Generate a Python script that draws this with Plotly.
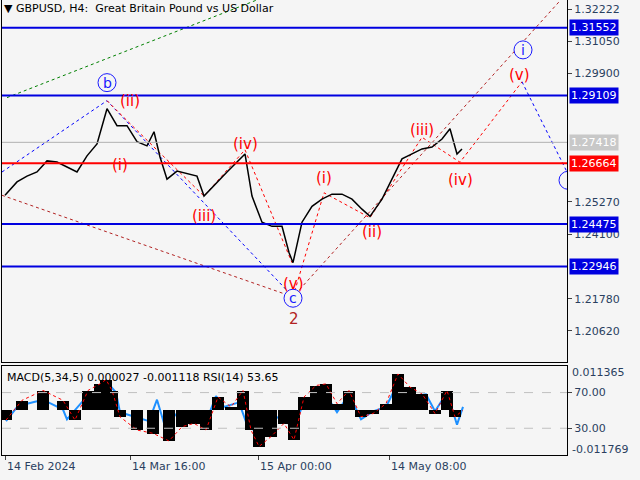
import plotly.graph_objects as go

# ---- data ----
price_x = [3,15,25,35,45,55,65,75,85,95,105,115,125,135,145,152,158,165,175,185,195,202,215,225,235,243,250,260,270,280,287,291,300,310,320,330,340,350,360,368,380,390,400,410,420,430,440,448,455,460]
price_y = [1.2551,1.2599,1.2620,1.2635,1.2675,1.2671,1.2653,1.2635,1.2693,1.2736,1.2863,1.2802,1.2802,1.2744,1.2729,1.2780,1.2689,1.2609,1.2638,1.2628,1.2620,1.2548,1.2599,1.2635,1.2671,1.2700,1.2548,1.2454,1.2439,1.2439,1.2345,1.2308,1.2454,1.2511,1.2537,1.2555,1.2555,1.2537,1.2501,1.2475,1.2537,1.2609,1.2682,1.2700,1.2718,1.2725,1.2754,1.2791,1.2700,1.2718]

macd_x = [4,20,41,61,73,86,98,104,110,118,135,151,167,180,192,204,216,229,241,249,257,269,282,292,302,314,324,335,347,359,371,384,396,408,420,433,445,453,461]
macd_v = [-0.003,0.003,0.006,0.003,-0.003,0.006,0.008,0.0093,0.006,-0.002,-0.006,-0.007,-0.0093,-0.005,-0.004,-0.006,0.004,0.001,0.006,-0.006,-0.011,-0.008,-0.004,-0.009,0.004,0.0075,0.008,0.002,0.006,-0.002,-0.001,0.002,0.011,0.007,0.005,-0.001,0.006,-0.002,0.0]

rsi_x = [4,16,41,61,65,82,98,104,114,118,135,147,155,163,176,192,204,214,222,237,245,253,269,282,290,302,314,327,335,347,359,371,384,396,408,424,433,445,455,461]
rsi_v = [38,55,62,51,40,62,73,83,70,48,42,38,62,32,48,49,37,66,54,59,34,27,38,46,27,59,66,62,48,68,40,49,54,81,66,68,49,70,34,54]

hlines_blue = [1.31552, 1.29109, 1.24475, 1.22946]
hline_red = 1.26664
hline_gray = 1.27418
price_ticks = [1.32222,1.31050,1.29900,1.25270,1.24100,1.21780,1.20620]
x_tickvals = [3,128,256,387]
x_ticklabels = ["14 Feb 2024","14 Mar 16:00","15 Apr 00:00","14 May 08:00"]

blue_wave_x = [0,105,291]; blue_wave_y = [1.2635,1.2892,1.2185]
brown_wave_x = [0,291,565]; brown_wave_y = [1.2551,1.2185,1.3280]
red_sub1_x = [105,118,202,243,290]; red_sub1_y = [1.2892,1.2845,1.2548,1.2715,1.2308]
red_sub2_x = [291,322,368,420,458,520]; red_sub2_y = [1.2185,1.2560,1.2470,1.2760,1.2670,1.2960]
blue_proj_x = [520,565]; blue_proj_y = [1.2960,1.2635]
green_x = [5,255]; green_y = [1.2903,1.3255]

circle_labels = [("b",105,1.2957),("c",291,1.2180),("i",521,1.3075),("",566,1.2605)]
wave_labels = [("2",292,1.2105,"#b22222"),("(i)",118,1.2660,"red"),("(ii)",128,1.2890,"red"),
               ("(iii)",202,1.2475,"red"),("(iv)",243,1.2735,"red"),("(v)",291,1.2233,"red"),
               ("(i)",322,1.2615,"red"),("(ii)",370,1.2420,"red"),("(iii)",420,1.2788,"red"),
               ("(iv)",458,1.2605,"red"),("(v)",517,1.2985,"red")]

fig = go.Figure()
dot = dict(dash="dot", width=1)
fig.add_trace(go.Scatter(x=green_x, y=green_y, mode="lines", line=dict(color="green", **dot)))
fig.add_trace(go.Scatter(x=blue_wave_x, y=blue_wave_y, mode="lines", line=dict(color="blue", **dot)))
fig.add_trace(go.Scatter(x=brown_wave_x, y=brown_wave_y, mode="lines", line=dict(color="#b22222", **dot)))
fig.add_trace(go.Scatter(x=red_sub1_x, y=red_sub1_y, mode="lines", line=dict(color="red", **dot)))
fig.add_trace(go.Scatter(x=red_sub2_x, y=red_sub2_y, mode="lines", line=dict(color="red", **dot)))
fig.add_trace(go.Scatter(x=blue_proj_x, y=blue_proj_y, mode="lines", line=dict(color="blue", **dot)))
fig.add_trace(go.Scatter(x=price_x, y=price_y, mode="lines", line=dict(color="black", width=1.5)))

fig.add_trace(go.Bar(x=macd_x, y=macd_v, marker_color="black", marker_line_width=0, width=12, yaxis="y3", xaxis="x2"))
fig.add_trace(go.Scatter(x=macd_x, y=macd_v, mode="lines", line=dict(color="red", dash="dot", width=1), yaxis="y3", xaxis="x2"))
fig.add_trace(go.Scatter(x=rsi_x, y=rsi_v, mode="lines", line=dict(color="#1e90ff", width=2), yaxis="y2", xaxis="x2"))

shapes = []
for v in hlines_blue:
    shapes.append(dict(type="line", xref="x", yref="y", x0=0, x1=565, y0=v, y1=v, line=dict(color="#0000e0", width=2)))
shapes.append(dict(type="line", xref="x", yref="y", x0=0, x1=565, y0=hline_red, y1=hline_red, line=dict(color="red", width=2)))
shapes.append(dict(type="line", xref="x", yref="y", x0=0, x1=565, y0=hline_gray, y1=hline_gray, line=dict(color="#b0b0b0", width=1)))
for v in [70, 30]:
    shapes.append(dict(type="line", xref="x2", yref="y2", x0=0, x1=565, y0=v, y1=v, line=dict(color="#c0c0c0", width=1, dash="dash")))

ann = []
for t, x, y in circle_labels:
    shapes.append(dict(type="circle", xref="x", yref="y", xsizemode="pixel", ysizemode="pixel", xanchor=x, yanchor=y,
                       x0=-9, x1=9, y0=-9, y1=9, line=dict(color="#1a1aff", width=1), fillcolor="#f5f5f5"))
    ann.append(dict(x=x, y=y, xref="x", yref="y", text=t, showarrow=False, font=dict(color="#1a1aff", size=14, family="DejaVu Sans")))
for t, x, y, c in wave_labels:
    ann.append(dict(x=x, y=y, xref="x", yref="y", text=t, showarrow=False, font=dict(color=c, size=15, family="DejaVu Sans")))
for v, bg in [(1.31552,"#0000e0"),(1.29109,"#0000e0"),(1.24475,"#0000e0"),(1.22946,"#0000e0"),(1.26664,"red"),(1.27418,"#c8c8c8")]:
    ann.append(dict(x=1.003, y=v, xref="paper", yref="y", xanchor="left", text="%.5f" % v, showarrow=False,
                    bgcolor=bg, font=dict(color="white", size=11, family="DejaVu Sans"), borderpad=1))
ann.append(dict(x=0.0, y=1.0, xref="paper", yref="paper", xanchor="left", yanchor="top", text="▼ GBPUSD, H4:  Great Britain Pound vs US Dollar",
                showarrow=False, font=dict(size=11, family="DejaVu Sans", color="black")))
ann.append(dict(x=0.005, y=0.19, xref="paper", yref="paper", xanchor="left", yanchor="top", text="MACD(5,34,5) 0.000027 -0.001118 RSI(14) 53.65",
                showarrow=False, font=dict(size=11, family="DejaVu Sans", color="black")))
for v, t in [(0.011365,"0.011365"),(-0.011769,"-0.011769")]:
    ann.append(dict(x=1.005, y=v, xref="paper", yref="y3", xanchor="left", text=t, showarrow=False, font=dict(size=11, family="DejaVu Sans")))
for xv, t in zip(x_tickvals, x_ticklabels):
    ann.append(dict(x=xv, y=0, xref="x2", yref="paper", xanchor="left", yanchor="top", yshift=-3, text=t, showarrow=False,
                    font=dict(size=11, family="DejaVu Sans")))

fig.update_layout(
    width=640, height=480, showlegend=False, paper_bgcolor="#f5f5f5", plot_bgcolor="#f5f5f5",
    margin=dict(l=2, r=73, t=0, b=25), bargap=0, shapes=shapes, annotations=ann,
    xaxis=dict(range=[0,565], domain=[0,1], showticklabels=False, showgrid=False, zeroline=False, showline=True, linecolor="black", mirror=True),
    xaxis2=dict(range=[0,565], anchor="y2", tickvals=x_tickvals, ticktext=[""]*4, ticks="outside", ticklen=4,
                showgrid=False, zeroline=False, showline=True, linecolor="black", mirror=True),
    yaxis=dict(domain=[0.204,1], range=[1.19495,1.32548], side="right", tickvals=price_ticks, ticktext=["%.5f" % v for v in price_ticks],
               ticks="outside", ticklen=4, showgrid=False, zeroline=False, showline=True, linecolor="black", mirror=True,
               tickfont=dict(size=11, family="DejaVu Sans")),
    yaxis2=dict(domain=[0,0.196], range=[0,100], side="right", anchor="x2", tickvals=[30,70], ticktext=["30.00","70.00"],
                ticks="outside", ticklen=4, showgrid=False, zeroline=False, showline=True, linecolor="black", mirror=True,
                tickfont=dict(size=11, family="DejaVu Sans")),
    yaxis3=dict(overlaying="y2", range=[-0.013569,0.013465], showticklabels=False, showgrid=False, zeroline=False, anchor="x2"),
)
fig.write_html("out.html", config={"displayModeBar": False})
with open("out.html", encoding="utf-8") as f:
    html = f.read()
html = html.replace("<head>", "<head><style>html,body{margin:0;padding:0;background:#f5f5f5;}</style>", 1)
with open("out.html", "w", encoding="utf-8") as f:
    f.write(html)
